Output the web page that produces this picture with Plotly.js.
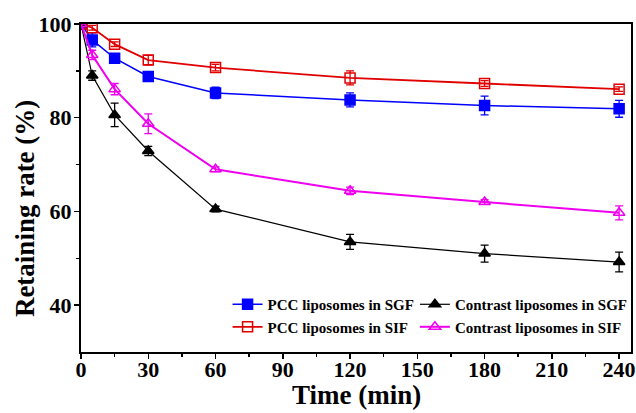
<!DOCTYPE html>
<html><head><meta charset="utf-8">
<script src="https://cdn.plot.ly/plotly-3.0.1.min.js"></script>
<style>body{margin:0;padding:0;background:#fff}#chart{width:636px;height:413px}</style>
</head><body><div id="chart"></div>
<script>
const time = [0, 5, 15, 30, 60, 120, 180, 240];
const pccSGF = [100, 96.6, 92.7, 88.8, 85.3, 83.8, 82.6, 81.9];
const pccSGFerr = [0, 1.5, 0.8, 0.8, 1.2, 1.5, 2.0, 1.8];
const pccSIF = [100, 99.2, 95.7, 92.3, 90.7, 88.5, 87.3, 86.1];
const pccSIFerr = [0, 0.5, 0.5, 1.0, 0.7, 1.5, 0.6, 0.5];
const conSGF = [100, 89.0, 80.6, 72.9, 60.5, 53.5, 51.0, 49.2];
const conSGFerr = [0, 1.0, 2.5, 1.0, 0.6, 1.6, 1.8, 2.1];
const conSIF = [100, 93.4, 86.1, 78.7, 69.0, 64.4, 62.0, 59.7];
const conSIFerr = [0, 1.0, 1.2, 2.1, 0.5, 0.8, 0.5, 1.5];
const xTitle = 'Time (min)';
const yTitle = 'Retaining rate (%)';

function tr(name, y, err, color, symbol, lw, legend) {
  return {
    x: time, y: y, name: name, type: 'scatter', mode: 'lines+markers',
    line: {color: color, width: lw},
    marker: {color: color, symbol: symbol, size: 10, line: {color: color, width: 1.5}},
    error_y: {type: 'data', array: err, visible: true, color: color, thickness: 1.3, width: 4},
    legend: legend
  };
}
const data = [
  tr('PCC liposomes in SGF', pccSGF, pccSGFerr, '#0000ff', 'square', 1.5, 'legend'),
  tr('PCC liposomes in SIF', pccSIF, pccSIFerr, '#e00000', 'square-open', 1.8, 'legend'),
  tr('Contrast liposomes in SGF', conSGF, conSGFerr, '#000000', 'triangle-up', 1.2, 'legend2'),
  tr('Contrast liposomes in SIF', conSIF, conSIFerr, '#ee00ee', 'triangle-up-open', 2, 'legend2')
];
const F = 'Liberation Serif, Times New Roman, serif';
const legendBase = {
  font: {family: F, size: 15, color: '#000', weight: 'bold'},
  bgcolor: 'rgba(0,0,0,0)', borderwidth: 0, tracegroupgap: 0,
  xanchor: 'left', yanchor: 'top', itemwidth: 30
};
const layout = {
  width: 636, height: 413,
  margin: {l: 81, r: 4, t: 24, b: 61},
  paper_bgcolor: '#fff', plot_bgcolor: '#fff',
  showlegend: true,
  font: {family: F, color: '#000'},
  xaxis: {
    range: [0, 245.3], tickmode: 'array', tickvals: [0,30,60,90,120,150,180,210,240],
    ticks: 'outside', ticklen: 5, tickwidth: 1.5, tickcolor: '#000', ticklabelstandoff: -8,
    minor: {tickvals: [15,45,75,105,135,165,195,225], ticks: 'outside', ticklen: 3, tickwidth: 1.5, tickcolor: '#000'},
    showline: true, linecolor: '#000', linewidth: 2, mirror: true,
    showgrid: false, zeroline: false,
    tickfont: {family: F, size: 22, weight: 'bold', color: '#000'}
  },
  yaxis: {
    range: [30, 100], tickmode: 'array', tickvals: [40, 60, 80, 100],
    ticks: 'outside', ticklen: 5, tickwidth: 1.5, tickcolor: '#000', ticklabelstandoff: -2,
    minor: {tickvals: [50, 70, 90], ticks: 'outside', ticklen: 3, tickwidth: 1.5, tickcolor: '#000'},
    showline: true, linecolor: '#000', linewidth: 2, mirror: true,
    showgrid: false, zeroline: false,
    tickfont: {family: F, size: 22, weight: 'bold', color: '#000'}
  },
  annotations: [{
    text: yTitle, textangle: -90, xref: 'paper', yref: 'paper',
    x: -0.1016, y: 0.436, xanchor: 'center', yanchor: 'middle', showarrow: false,
    font: {family: F, size: 27, weight: 'bold', color: '#000'}
  }, {
    text: xTitle, xref: 'paper', yref: 'paper',
    x: 0.5, y: -0.183, xanchor: 'center', yanchor: 'bottom', showarrow: false,
    font: {family: F, size: 27, weight: 'bold', color: '#000'}
  }],
  legend: Object.assign({}, legendBase, {x: 0.266, y: 0.195}),
  legend2: Object.assign({}, legendBase, {x: 0.606, y: 0.195})
};
Plotly.newPlot('chart', data, layout, {displayModeBar: false, staticPlot: true});
</script></body></html>
